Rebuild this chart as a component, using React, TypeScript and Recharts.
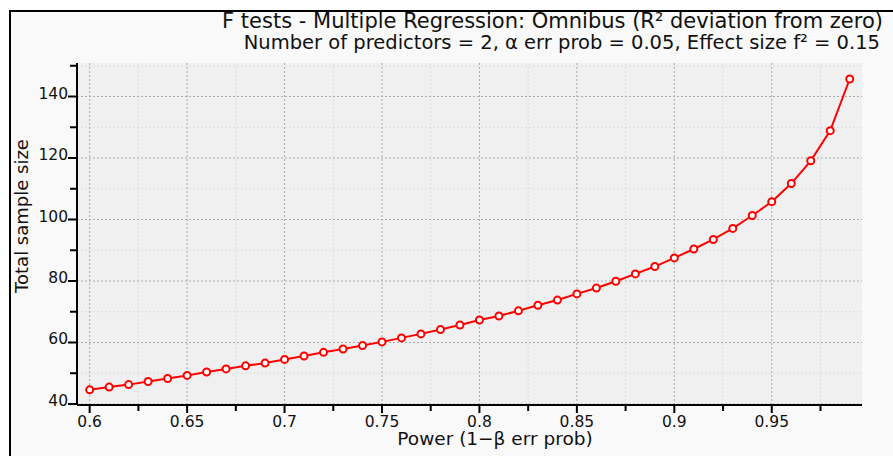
import React from "react";
import { LineChart, Line, XAxis, YAxis, CartesianGrid, ReferenceLine } from "recharts";

const powerValues = [
  0.6, 0.61, 0.62, 0.63, 0.64, 0.65, 0.66, 0.67, 0.68, 0.69,
  0.7, 0.71, 0.72, 0.73, 0.74, 0.75, 0.76, 0.77, 0.78, 0.79,
  0.8, 0.81, 0.82, 0.83, 0.84, 0.85, 0.86, 0.87, 0.88, 0.89,
  0.9, 0.91, 0.92, 0.93, 0.94, 0.95, 0.96, 0.97, 0.98, 0.99,
];
const sampleSizes = [
  44.6, 45.5, 46.3, 47.3, 48.3, 49.3, 50.4, 51.4, 52.4, 53.3,
  54.5, 55.6, 56.8, 57.9, 59.0, 60.2, 61.5, 62.8, 64.2, 65.7,
  67.3, 68.6, 70.3, 72.1, 73.8, 75.8, 77.7, 79.9, 82.3, 84.7,
  87.5, 90.4, 93.5, 97.1, 101.3, 105.8, 111.7, 119.1, 128.9, 145.7,
];
const xMajorTicks = [0.6, 0.65, 0.7, 0.75, 0.8, 0.85, 0.9, 0.95];
const xMinorTicks = [0.625, 0.675, 0.725, 0.775, 0.825, 0.875, 0.925, 0.975];
const yMajorTicks = [40, 60, 80, 100, 120, 140];
const yMinorTicks = [50, 70, 90, 110, 130, 150];
const xTickLabels = ["0.6", "0.65", "0.7", "0.75", "0.8", "0.85", "0.9", "0.95"];
const yTickLabels = ["40", "60", "80", "100", "120", "140"];

const titleLine1 = "F tests - Multiple Regression: Omnibus (R² deviation from zero)";
const titleLine2 = "Number of predictors = 2, α err prob = 0.05, Effect size f² = 0.15";
const xLabel = "Power (1\u2212β err prob)";
const yLabel = "Total sample size";

const data = powerValues.map((p, i) => ({ power: p, n: sampleSizes[i] }));
const allXTicks = [...xMajorTicks, ...xMinorTicks].sort((a, b) => a - b);
const allYTicks = [...yMajorTicks, ...yMinorTicks].sort((a, b) => a - b);

const FONT = "'DejaVu Sans', sans-serif";

const isMajor = (list: number[], v: number) => list.some((m) => Math.abs(m - v) < 1e-9);

const XTick = (props: any) => {
  const { x, y, payload } = props;
  const v = payload.value;
  const major = isMajor(xMajorTicks, v);
  const idx = xMajorTicks.findIndex((m) => Math.abs(m - v) < 1e-9);
  return (
    <g>
      <line x1={x} x2={x} y1={y} y2={y + (major ? 8 : 6)} stroke="#000" strokeWidth={2} />
      {major && (
        <text x={x} y={y + 22} textAnchor="middle" fontFamily={FONT} fontSize={15.5} fill="#111">
          {xTickLabels[idx]}
        </text>
      )}
    </g>
  );
};

const YTick = (props: any) => {
  const { x, y, payload } = props;
  const v = payload.value;
  const major = isMajor(yMajorTicks, v);
  const idx = yMajorTicks.findIndex((m) => Math.abs(m - v) < 1e-9);
  return (
    <g>
      <line x1={x} x2={x - (major ? 9 : 7)} y1={y} y2={y} stroke="#000" strokeWidth={2} />
      {major && (
        <text x={x - 9} y={y + 2} textAnchor="end" fontFamily={FONT} fontSize={15.5} fill="#111">
          {yTickLabels[idx]}
        </text>
      )}
    </g>
  );
};

export default function App() {
  return (
    <div style={{ position: "absolute", left: 0, top: 0, width: 893, height: 456, background: "#fff", overflow: "hidden" }}>
      <div
        style={{
          position: "absolute",
          left: 9,
          top: 10,
          width: 884,
          height: 446,
          boxSizing: "border-box",
          borderLeft: "2px solid #000",
          borderTop: "2px solid #000",
          background: "#f9f9f9",
        }}
      />
      <div style={{ position: "absolute", left: 0, top: 0 }}>
        <LineChart
          width={893}
          height={456}
          data={data}
          margin={{ top: 63, right: 31, bottom: 21, left: 17 }}
        >
          <CartesianGrid fill="#f0f0f0" stroke="none" horizontal={false} vertical={false} />
          {xMinorTicks.map((v) => (
            <ReferenceLine key={"xm" + v} x={v} stroke="#dedede" strokeWidth={1} strokeDasharray="2 2" />
          ))}
          {yMinorTicks.map((v) => (
            <ReferenceLine key={"ym" + v} y={v} stroke="#dedede" strokeWidth={1} strokeDasharray="2 2" />
          ))}
          {xMajorTicks.map((v) => (
            <ReferenceLine key={"xM" + v} x={v} stroke="#ababab" strokeWidth={1} strokeDasharray="2 2" />
          ))}
          {yMajorTicks.map((v) => (
            <ReferenceLine key={"yM" + v} y={v} stroke="#ababab" strokeWidth={1} strokeDasharray="2 2" />
          ))}
          <XAxis
            dataKey="power"
            type="number"
            domain={[0.5935, 0.9963]}
            ticks={allXTicks}
            interval={0}
            tickSize={0}
            tickMargin={0}
            tickLine={false}
            tick={<XTick />}
            axisLine={{ stroke: "#000", strokeWidth: 2 }}
            height={30}
            allowDataOverflow
          />
          <YAxis
            type="number"
            domain={[39.67, 150.9]}
            ticks={allYTicks}
            interval={0}
            tickSize={0}
            tickMargin={0}
            tickLine={false}
            tick={<YTick />}
            axisLine={{ stroke: "#000", strokeWidth: 2 }}
            width={60}
            allowDataOverflow
          />
          <Line
            type="linear"
            dataKey="n"
            stroke="#ff0000"
            strokeWidth={2}
            dot={{ r: 3.5, fill: "#fff", stroke: "#ff0000", strokeWidth: 2 }}
            isAnimationActive={false}
          />
        </LineChart>
      </div>
      <svg width={893} height={456} style={{ position: "absolute", left: 0, top: 0, pointerEvents: "none" }}>
        <text x={883} y={28} textAnchor="end" fontFamily={FONT} fontSize={21} fill="#111">
          {titleLine1}
        </text>
        <text x={880} y={49} textAnchor="end" fontFamily={FONT} fontSize={19.5} fill="#111">
          {titleLine2}
        </text>
        <text x={495} y={445} textAnchor="middle" fontFamily={FONT} fontSize={18.5} fill="#111">
          {xLabel}
        </text>
        <text
          x={0}
          y={0}
          transform="translate(28,216) rotate(-90)"
          textAnchor="middle"
          fontFamily={FONT}
          fontSize={18}
          fill="#111"
        >
          {yLabel}
        </text>
      </svg>
    </div>
  );
}
